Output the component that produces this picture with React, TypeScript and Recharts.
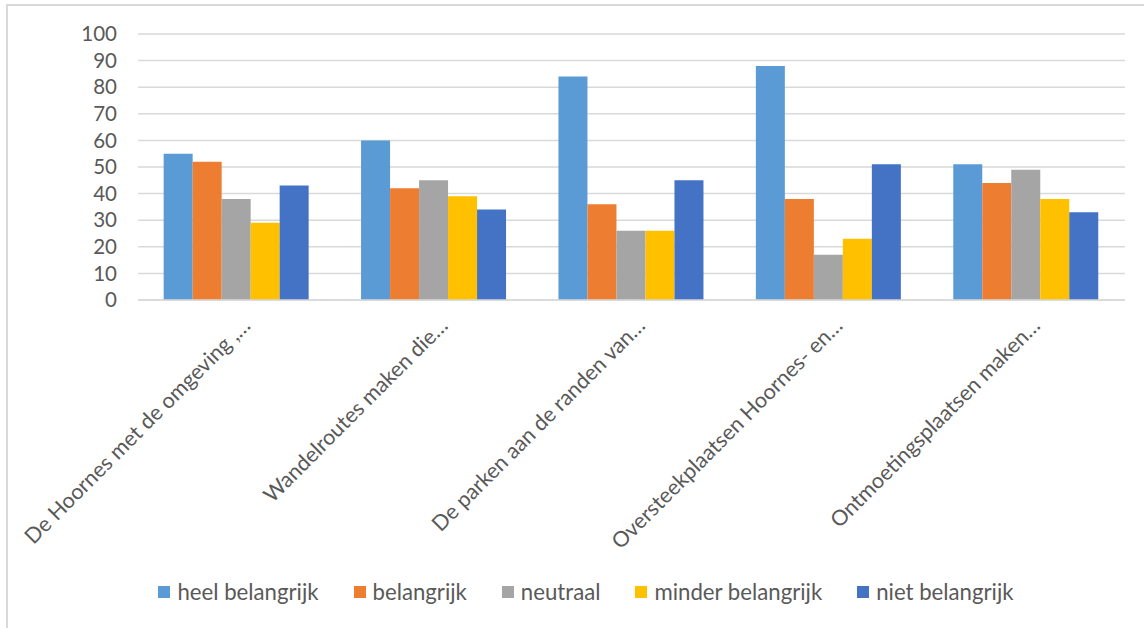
import { BarChart, Bar, XAxis, YAxis, CartesianGrid, Legend } from "recharts";

const categories = [
  "De Hoornes met de omgeving ,…",
  "Wandelroutes maken die…",
  "De parken aan de randen van…",
  "Oversteekplaatsen Hoornes- en…",
  "Ontmoetingsplaatsen maken…",
];

const seriesNames = [
  "heel belangrijk",
  "belangrijk",
  "neutraal",
  "minder belangrijk",
  "niet belangrijk",
];

const heelBelangrijk = [55, 60, 84, 88, 51];
const belangrijk = [52, 42, 36, 38, 44];
const neutraal = [38, 45, 26, 17, 49];
const minderBelangrijk = [29, 39, 26, 23, 38];
const nietBelangrijk = [43, 34, 45, 51, 33];

const yTicks = [0, 10, 20, 30, 40, 50, 60, 70, 80, 90, 100];

const colors = ["#5B9BD5", "#ED7D31", "#A5A5A5", "#FFC000", "#4472C4"];

const seriesValues = [heelBelangrijk, belangrijk, neutraal, minderBelangrijk, nietBelangrijk];

const data = categories.map((name, i) => {
  const row: Record<string, string | number> = { name };
  seriesNames.forEach((s, j) => {
    row[s] = seriesValues[j][i];
  });
  return row;
});

const FONT = "Lato, 'Liberation Sans', sans-serif";
const TEXT = "#595959";

function AngledTick(props: any) {
  const { x, y, payload } = props;
  return (
    <g transform={`translate(${x + 15},${y + 19})`}>
      <text
        transform="rotate(-45)"
        textAnchor="end"
        fill={TEXT}
        fontSize={21.5}
        fontFamily={FONT}
      >
        {payload.value}
      </text>
    </g>
  );
}

function LegendContent() {
  return (
    <div
      style={{
        height: 48,
        display: "flex",
        alignItems: "center",
        justifyContent: "center",
        paddingLeft: 47,
        paddingBottom: 5,
        boxSizing: "border-box",
        fontFamily: FONT,
        fontSize: 22.2,
        color: TEXT,
      }}
    >
      {seriesNames.map((s, i) => (
        <div key={s} style={{ display: "flex", alignItems: "center", marginRight: i < 4 ? 35 : 0 }}>
          <span style={{ width: 12, height: 12, background: colors[i], marginRight: 7, display: "inline-block" }} />
          <span>{s}</span>
        </div>
      ))}
    </div>
  );
}

export default function App() {
  return (
    <div
      style={{
        position: "absolute",
        left: 0,
        top: 0,
        width: 1144,
        height: 628,
        overflow: "hidden",
        background: "#fff",
      }}
    >
      <div
        style={{
          position: "absolute",
          left: 6,
          top: 4,
          width: 1160,
          height: 660,
          border: "2px solid #d9d9d9",
        }}
      />
      <div style={{ position: "absolute", left: 0, top: 0 }}>
        <BarChart
          width={1144}
          height={628}
          data={data}
          margin={{ top: 34, right: 19, left: 0, bottom: 10 }}
          barGap={0}
          barCategoryGap="13%"
        >
          <CartesianGrid vertical={false} stroke="#d9d9d9" strokeWidth={1.5} />
          <XAxis
            dataKey="name"
            interval={0}
            height={270}
            tick={<AngledTick />}
            tickLine={false}
            axisLine={{ stroke: "#d9d9d9", strokeWidth: 1.5 }}
          />
          <YAxis
            width={138}
            domain={[0, 100]}
            ticks={yTicks}
            interval={0}
            tickLine={false}
            axisLine={false}
            tickSize={0}
            tickMargin={21}
            tick={{ fill: TEXT, fontSize: 20.5, fontFamily: FONT }}
          />
          <Legend verticalAlign="bottom" height={48} content={<LegendContent />} />
          {seriesNames.map((s, i) => (
            <Bar key={s} dataKey={s} fill={colors[i]} isAnimationActive={false} />
          ))}
        </BarChart>
      </div>
    </div>
  );
}
